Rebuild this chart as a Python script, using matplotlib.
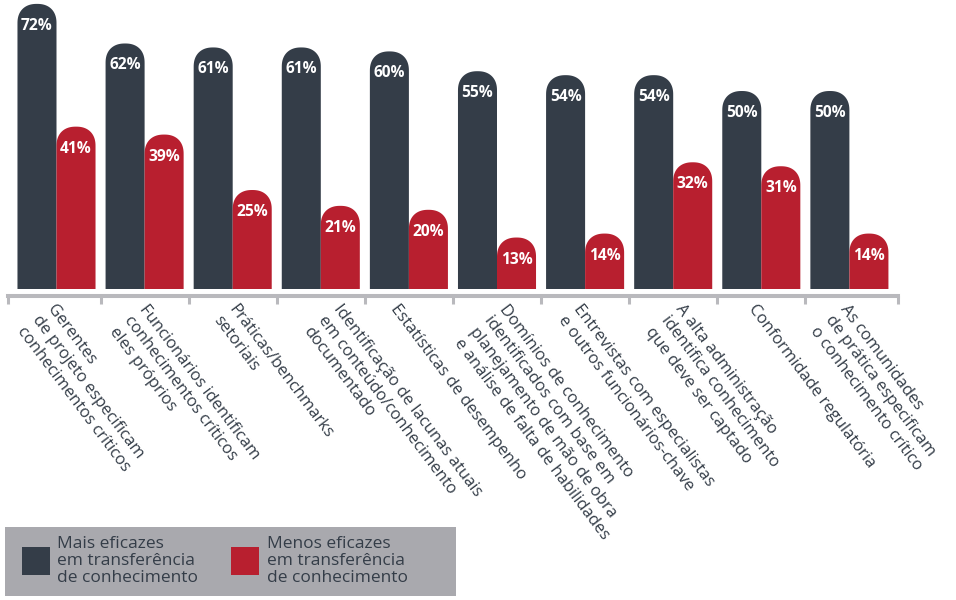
import numpy as np
import matplotlib
matplotlib.use("Agg")
import matplotlib.pyplot as plt
from matplotlib.patches import Polygon, Rectangle
from matplotlib.transforms import ScaledTranslation

# ----------------------------
# data
# ----------------------------
categories = [
    "Gerentes\nde projeto especificam\nconhecimentos críticos",
    "Funcionários identificam\nconhecimentos críticos\neles próprios",
    "Práticas/benchmarks\nsetoriais",
    "Identificação de lacunas atuais\nem conteúdo/conhecimento\ndocumentado",
    "Estatísticas de desempenho",
    "Domínios de conhecimento\nidentificados com base em\nplanejamento de mão de obra\ne análise de falta de habilidades",
    "Entrevistas com especialistas\ne outros funcionários-chave",
    "A alta administração\nidentifica conhecimento\nque deve ser captado",
    "Conformidade regulatória",
    "As comunidades\nde prática especificam\no conhecimento crítico",
]
mais_eficazes = [72, 62, 61, 61, 60, 55, 54, 54, 50, 50]
menos_eficazes = [41, 39, 25, 21, 20, 13, 14, 32, 31, 14]
series_names = [
    "Mais eficazes\nem transferência\nde conhecimento",
    "Menos eficazes\nem transferência\nde conhecimento",
]

DARK = "#343d48"
RED = "#b81f2f"
GRAY = "#b9b9bd"
TEXT = "#343d48"

plt.rcParams["font.family"] = ["Open Sans", "DejaVu Sans"]

# ----------------------------
# layout (pixels)
# ----------------------------
W, H = 956, 600
PITCH = 88.1      # px per category
X0 = 56.5         # px of first group centre
BASE = 289        # px of bar baseline from top
PX_Y = 3.96       # px per percent
BAR_W = 0.443
# small horizontal nudges of the rotated labels (px), as in the original layout
label_nudge = [0, 4, 5, 22, -9, 12, -2, 12, -4, 0]

fig = plt.figure(figsize=(W / 100, H / 100), dpi=100)
ax = fig.add_axes([0, (H - BASE) / H, 1, BASE / H])
ax.set_xlim(-X0 / PITCH, (W - X0) / PITCH)
ax.set_ylim(0, BASE / PX_Y)


def rounded_bar(x, h, w, color):
    rx = w / 2
    ry = min(rx * PITCH / PX_Y, h)
    t = np.linspace(0, np.pi, 60)
    c, s = np.cos(t), np.sin(t)
    e = 2.0 / 2.3
    ax_ = x + rx * np.sign(c) * np.abs(c) ** e
    ay_ = h - ry + ry * np.abs(s) ** e
    pts = [(x - rx, 0), (x + rx, 0)] + list(zip(ax_, ay_)) + [(x - rx, 0)]
    ax.add_patch(Polygon(pts, closed=True, facecolor=color, edgecolor="none"))


for i, (a, b) in enumerate(zip(mais_eficazes, menos_eficazes)):
    for x, v, col in ((i - BAR_W / 2, a, DARK), (i + BAR_W / 2, b, RED)):
        rounded_bar(x, v, BAR_W, col)
        ax.annotate(f"{v}%", xy=(x, v), xytext=(0, -22), textcoords="offset pixels",
                    ha="center", va="center", color="white", fontsize=11.2,
                    fontweight="bold")

# ---------- axis ----------
for sp in ("top", "right", "left"):
    ax.spines[sp].set_visible(False)
ax.set_yticks([])
edges = [-0.55] + [i + 0.5 for i in range(9)] + [9.55]
ax.spines["bottom"].set_position(("outward", 5))
ax.spines["bottom"].set_bounds(edges[0], edges[-1])
ax.spines["bottom"].set_color(GRAY)
ax.spines["bottom"].set_linewidth(2.9)
ax.set_xticks(edges, minor=True)
ax.tick_params(axis="x", which="minor", length=6, width=2.2, color=GRAY, direction="out")
ax.set_xticks(range(len(categories)))
ax.set_xticklabels(categories, rotation=-53, rotation_mode="anchor",
                   ha="left", va="top", fontsize=12.0, color=TEXT, linespacing=1.24)
ax.tick_params(axis="x", which="major", length=0, pad=4)
for lab, dx in zip(ax.get_xticklabels(), label_nudge):
    lab.set_transform(lab.get_transform() + ScaledTranslation(dx / 100, 0, fig.dpi_scale_trans))

# ---------- legend ----------
fig.add_artist(Rectangle((5 / W, 4 / H), 451 / W, 69 / H, transform=fig.transFigure,
                         facecolor="#a9a9ae", edgecolor="none"))
for (sx, tx), col, name in zip(((22, 57), (231, 267)), (DARK, RED), series_names):
    fig.add_artist(Rectangle((sx / W, 25 / H), 28 / W, 28 / H, transform=fig.transFigure,
                             facecolor=col, edgecolor="none"))
    fig.text(tx / W, 39 / H, name, ha="left", va="center", fontsize=12.5,
             color=TEXT, linespacing=1.12)

fig.savefig("out.png", dpi=100)
